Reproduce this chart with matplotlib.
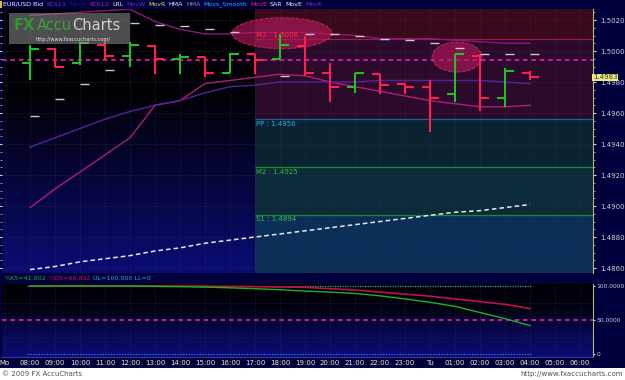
# -*- coding: utf-8 -*-
"""EUR/USD hourly chart with pivot zones and stochastic panel."""

import matplotlib

matplotlib.use("Agg")
import matplotlib.pyplot as plt
import matplotlib.transforms as mtransforms
import numpy as np
from matplotlib.colors import LinearSegmentedColormap
from matplotlib.patches import Ellipse, Rectangle

# ==================== Data ====================
# hour index 0 = Mo 08:00 ... 20 = Tu 04:00
HOURS = list(range(21))
OPEN = [1.4992, 1.5001, 1.4992, 1.5004, 1.4997, 1.5003, 1.4995, 1.4996, 1.4986, 1.4998, 1.4995,
        1.5003, 1.4986, 1.4977, 1.4985, 1.4979, 1.4977, 1.4972, 1.4997, 1.4970, 1.4986]
HIGH = [1.5004, 1.5002, 1.5006, 1.5007, 1.5006, 1.5004, 1.4998, 1.4996, 1.4999, 1.4998, 1.5011,
        1.5010, 1.4992, 1.4986, 1.4985, 1.4979, 1.4981, 1.4998, 1.4998, 1.4989, 1.4987]
LOW = [1.4981, 1.4990, 1.4991, 1.4994, 1.4990, 1.4985, 1.4985, 1.4983, 1.4986, 1.4985, 1.4995,
       1.4984, 1.4967, 1.4973, 1.4972, 1.4972, 1.4948, 1.4967, 1.4961, 1.4964, 1.4981]
CLOSE = [1.5001, 1.4990, 1.5005, 1.4997, 1.5004, 1.4995, 1.4996, 1.4986, 1.4998, 1.4994, 1.5004,
         1.4986, 1.4977, 1.4986, 1.4978, 1.4977, 1.4970, 1.4998, 1.4970, 1.4987, 1.4983]
SAR = [1.4958, 1.4969, 1.4979, 1.4988, 1.5018, 1.5017, 1.5016, 1.5014, 1.5012, np.nan, 1.4984,
       1.5011, 1.5011, 1.5010, 1.5008, 1.5007, 1.5005, 1.5002, 1.4998, 1.4998, 1.4998]
BAND_UPPER = [1.5023, 1.5024, 1.5025, 1.5026, 1.5027, 1.5019, 1.5014, 1.5011, 1.5011, 1.5012, 1.5012,
              1.5012, 1.5011, 1.5010, 1.5008, 1.5008, 1.5008, 1.5007, 1.5006, 1.5005, 1.5005]
BAND_LOWER = [1.4899, 1.4911, 1.4922, 1.4933, 1.4944, 1.4965, 1.4968, 1.4979, 1.4981, 1.4983, 1.4985,
              1.4984, 1.4980, 1.4977, 1.4974, 1.4971, 1.4968, 1.4966, 1.4964, 1.4964, 1.4965]
MOV_AVG = [1.4938, 1.4944, 1.4950, 1.4956, 1.4961, 1.4965, 1.4968, 1.4973, 1.4977, 1.4978, 1.4980,
           1.4980, 1.4980, 1.4980, 1.4981, 1.4981, 1.4981, 1.4981, 1.4981, 1.4980, 1.4979]
LRL = [1.4859, 1.4861, 1.4864, 1.4866, 1.4868, 1.4871, 1.4873, 1.4876, 1.4878, 1.4880, 1.4882,
       1.4884, 1.4886, 1.4888, 1.4890, 1.4892, 1.4894, 1.4896, 1.4897, 1.4899, 1.4901]
PINK_LEVEL = 1.4994
LAST_PRICE = "1.4983"

PIVOT_START = 9
PIVOTS = [("M3", 1.5008), ("PP", 1.4956), ("M2", 1.4925), ("S1", 1.4894)]

STOCH_K = [100, 100, 100, 100, 100, 99.5, 99, 98.3, 97.3, 96, 94.5,
           92.5, 91, 89, 85.5, 81, 76, 70, 61, 52, 41.8]
STOCH_D = [100, 100, 100, 100, 100, 100, 99.9, 99.7, 99.4, 99, 98.5,
           98, 96, 94, 91, 88, 85, 81, 77, 73, 66.8]

TIME_TICKS = list(range(-1, 23))
TIME_LABELS = ["Mo", "08:00", "09:00", "10:00", "11:00", "12:00", "13:00", "14:00", "15:00",
               "16:00", "17:00", "18:00", "19:00", "20:00", "21:00", "22:00", "23:00", "Tu",
               "01:00", "02:00", "03:00", "04:00", "05:00", "06:00"]
PRICE_TICKS = [1.4860, 1.4880, 1.4900, 1.4920, 1.4940, 1.4960, 1.4980, 1.5000, 1.5020]

HEADER = [
    ("EUR/USD Bid", "#f0f0f0"), ("BOLL1", "#8a2a9a"), ("MovE", "#1c1c66"),
    ("BOLL2", "#a0309a"), ("LRL", "#e8e8b0"), ("MovW", "#7a30c0"),
    ("MovR", "#e0e040"), ("HMA", "#f0f0f0"), ("HMA", "#909090"),
    ("Movs_Smooth", "#10c0e0"), ("MovE", "#ff2040"), ("SAR", "#f0f0f0"),
    ("MovE", "#f0f0f0"), ("MovE", "#7a30c0"),
]
STOCH_LEGEND = [("%K5=41.802", "#22b022"), ("%DS=66.832", "#d01048"),
                ("UL=100.000 LL=0", "#20a8e8")]
# ===============================================

W, H = 625, 380
GREEN = "#22c022"
RED = "#ff2050"
TEXT_FONT = ["DejaVu Sans"]


def fx(x):
    return x / W


def fy(y):
    return 1 - y / H


def text_row(fig, pieces, x0, y, fontsize, gap):
    """Place coloured words one after another on one line (pixel coords)."""
    renderer = fig.canvas.get_renderer()
    x = x0
    for text, color in pieces:
        t = fig.text(fx(x), fy(y), text, color=color, fontsize=fontsize, va="center",
                     ha="left", family=TEXT_FONT)
        x += t.get_window_extent(renderer).width + gap


def gradient_bg(ax, xlim, ylim, colors):
    cmap = LinearSegmentedColormap.from_list("bg", colors)
    grad = np.linspace(0, 1, 256).reshape(-1, 1)
    ax.imshow(grad, extent=[xlim[0], xlim[1], ylim[0], ylim[1]], aspect="auto",
              cmap=cmap, origin="lower", zorder=0)
    ax.set_xlim(*xlim)
    ax.set_ylim(*ylim)


def draw_main(fig):
    ax = fig.add_axes([fx(2), fy(273), (593 - 2) / W, (273 - 9) / H])
    xlim = (-1.12, 22.52)
    ylim = (1.48568, 1.50271)
    gradient_bg(ax, xlim, ylim, ["#0b0b74", "#06063e", "#010108", "#000004"])

    # pivot zones
    m3, pp, m2, s1 = [v for _, v in PIVOTS]
    width = xlim[1] - PIVOT_START
    zones = [
        (m3, ylim[1], "#3a0a1c"),
        (pp, m3, "#2c0a2c"),
        (m2, pp, "#0a2232"),
        (s1, m2, "#0b2a3a"),
        (ylim[0], s1, "#0c2f58"),
    ]
    for lo, hi, color in zones:
        ax.add_patch(Rectangle((PIVOT_START, lo), width, hi - lo, facecolor=color,
                               edgecolor="none", zorder=1))
    line_colors = {"M3": "#9a1a48", "PP": "#1a6688", "M2": "#1c8a2c", "S1": "#1c8a2c"}
    label_colors = {"M3": "#ff3040", "PP": "#20b8e0", "M2": "#30c040", "S1": "#30c040"}
    label_offsets = {"M3": 0.00022, "PP": -0.00033, "M2": -0.00031, "S1": -0.00026}
    for name, value in PIVOTS:
        ax.hlines(value, PIVOT_START, xlim[1], color=line_colors[name], lw=0.9, zorder=2)
        ax.text(PIVOT_START + 0.05, value + label_offsets[name], f"{name} : {value:.4f}",
                color=label_colors[name], fontsize=5, va="center", ha="left", zorder=6,
                family=TEXT_FONT)

    # grid
    for h in range(-1, 23):
        ax.axvline(h, color="#343448", lw=0.5, ls=(0, (1, 2)), zorder=1.5)
    for p in PRICE_TICKS:
        ax.axhline(p, color="#343448", lw=0.5, ls=(0, (1, 2)), zorder=1.5)

    ax.axhline(PINK_LEVEL, color="#ff20c8", lw=1.1, ls=(0, (3, 2.5)), zorder=3)

    # indicator lines
    ax.plot(HOURS, BAND_UPPER, color="#8c1a78", lw=1.0, zorder=3)
    ax.plot(HOURS, BAND_LOWER, color="#b01c78", lw=1.0, zorder=3)
    ax.plot(HOURS, MOV_AVG, color="#5c209a", lw=1.0, zorder=3)
    ax.plot(HOURS, LRL, color="#e8e8f0", lw=1.1, ls=(0, (3, 2)), zorder=3)

    # circles of interest
    ax.add_patch(Ellipse((10.08, 1.50115), 4.0, 0.0020, facecolor="#b01858", alpha=0.65,
                         edgecolor="#ff3060", ls="--", lw=0.7, zorder=4))
    ax.add_patch(Ellipse((17.08, 1.49961), 2.0, 0.00194, facecolor="#b01858", alpha=0.65,
                         edgecolor="#ff3060", ls="--", lw=0.7, zorder=4))

    # OHLC bars
    tick = 0.34
    for h, o, hi, lo, c in zip(HOURS, OPEN, HIGH, LOW, CLOSE):
        color = GREEN if c >= o else RED
        ax.vlines(h, lo, hi, color=color, lw=1.5, zorder=5)
        ax.hlines(o, h - tick, h, color=color, lw=1.5, zorder=5)
        ax.hlines(c, h, h + tick, color=color, lw=1.5, zorder=5)

    # SAR dashes
    for h, s in zip(HOURS, SAR):
        if not np.isnan(s):
            ax.hlines(s, h, h + 0.34, color="#c8c8c8", lw=1.0, zorder=5)

    # axes styling
    for side in ["top", "bottom", "left"]:
        ax.spines[side].set_visible(False)
    ax.spines["right"].set_color("#b8b870")
    ax.spines["right"].set_linewidth(0.8)
    ax.set_xticks([])
    ax.yaxis.tick_right()
    ax.set_yticks(PRICE_TICKS)
    ax.set_yticklabels([f"{p:.4f}" for p in PRICE_TICKS])
    ax.set_yticks(np.arange(1.4860, 1.50275, 0.0005), minor=True)
    ax.tick_params(axis="y", which="major", labelsize=5, colors="#d0d0d0", length=2,
                   pad=3, direction="out")
    ax.tick_params(axis="y", which="minor", length=1.5, colors="#b8b870", direction="out")
    ax.tick_params(axis="y", which="both", left=True, labelleft=False)
    for lab in ax.get_yticklabels():
        lab.set_family(TEXT_FONT)

    trans = mtransforms.blended_transform_factory(ax.transAxes, ax.transData)
    ax.text(1.0, 1.4983, LAST_PRICE, transform=trans, ha="left", va="center", fontsize=5,
            color="#404000", zorder=10, clip_on=False, family=TEXT_FONT,
            bbox=dict(facecolor="#e8e890", edgecolor="none", pad=0.6))
    return ax


def draw_stoch(fig):
    ax = fig.add_axes([fx(2), fy(357), 591 / W, (357 - 284) / H])
    xlim = (-1.12, 22.52)
    ylim = (-4.4, 102.9)
    gradient_bg(ax, xlim, ylim, ["#0b0b74", "#080850", "#020210", "#000004"])

    for h in range(-1, 23):
        ax.axvline(h, color="#30304a", lw=0.5, ls=(0, (1, 2)), zorder=1)
    for v in [25, 75]:
        ax.axhline(v, color="#30304a", lw=0.5, ls=(0, (1, 2)), zorder=1)

    ax.axhline(50, color="#ff20c8", lw=1.1, ls=(0, (3, 2.5)), zorder=2)
    ax.hlines(100, -0.12, 20.08, color="#20b0c0", lw=0.9, ls=(0, (1, 1)), zorder=2)
    ax.hlines(0, -0.12, 20.08, color="#2a70e0", lw=1.0, ls=(0, (1, 1)), zorder=2)
    ax.plot(HOURS, STOCH_D, color="#c0104a", lw=1.2, zorder=3)
    ax.plot(HOURS, STOCH_K, color="#22b022", lw=1.0, zorder=4)

    for side in ["top", "left"]:
        ax.spines[side].set_visible(False)
    ax.spines["right"].set_color("#b8b870")
    ax.spines["bottom"].set_color("#3a3a8a")
    ax.yaxis.tick_right()
    ax.set_yticks([0, 50, 100])
    ax.set_yticklabels(["0", "50.0000", "100.0000"])
    ax.tick_params(axis="y", labelsize=4.3, colors="#d0d0d0", length=1.5, pad=1)
    ax.set_xticks(TIME_TICKS)
    ax.set_xticklabels(TIME_LABELS)
    ax.tick_params(axis="x", labelsize=5, colors="#e8e8c8", length=0, pad=2)
    for lab in ax.get_xticklabels() + ax.get_yticklabels():
        lab.set_family(TEXT_FONT)
    return ax


def draw_texts(fig):
    # header line
    fig.add_artist(Rectangle((0, fy(9)), 1, 9 / H, transform=fig.transFigure,
                             facecolor="#00003c", edgecolor="none"))
    fig.add_artist(Rectangle((0, fy(8)), fx(2), 7 / H, transform=fig.transFigure,
                             facecolor="#e0c020", edgecolor="none"))
    text_row(fig, HEADER, 3, 4.5, 4.5, 3)

    # watermark
    fig.add_artist(Rectangle((fx(9), fy(44)), 121 / W, 31 / H, transform=fig.transFigure,
                             facecolor="#909090", alpha=0.55, edgecolor="none", zorder=8))
    fig.text(fx(14), fy(25), "FX", color="#2e9a2e", fontsize=10.5, weight="bold",
             va="center", ha="left", zorder=9, family=TEXT_FONT)
    fig.text(fx(37), fy(25), "Accu", color="#3aa03a", fontsize=10.5, va="center",
             ha="left", zorder=9, family=TEXT_FONT)
    fig.text(fx(72), fy(25), "Charts", color="#d0d0d0", fontsize=10.5, va="center",
             ha="left", zorder=9, family=TEXT_FONT)
    fig.text(fx(36), fy(39), "http://www.fxaccucharts.com/", color="#e0e0e0", fontsize=3.6,
             va="center", ha="left", zorder=9, family=TEXT_FONT)

    # stochastic legend
    text_row(fig, STOCH_LEGEND, 5, 279, 4.6, 2)

    # footer
    fig.add_artist(Rectangle((0, 0), 1, 12 / H, transform=fig.transFigure,
                             facecolor="white", edgecolor="none"))
    fig.text(fx(2), fy(374), "\u00a9 2009 FX AccuCharts", color="#505050", fontsize=5,
             va="center", ha="left", family=TEXT_FONT)
    fig.text(fx(623), fy(374), "http://www.fxaccucharts.com", color="#505050", fontsize=5,
             va="center", ha="right", family=TEXT_FONT)


def main():
    fig = plt.figure(figsize=(W / 100, H / 100), dpi=100)
    fig.patch.set_facecolor("#00003c")
    draw_main(fig)
    draw_stoch(fig)
    draw_texts(fig)
    fig.savefig("out.png", dpi=100, facecolor=fig.get_facecolor())
    plt.close(fig)


if __name__ == "__main__":
    main()
